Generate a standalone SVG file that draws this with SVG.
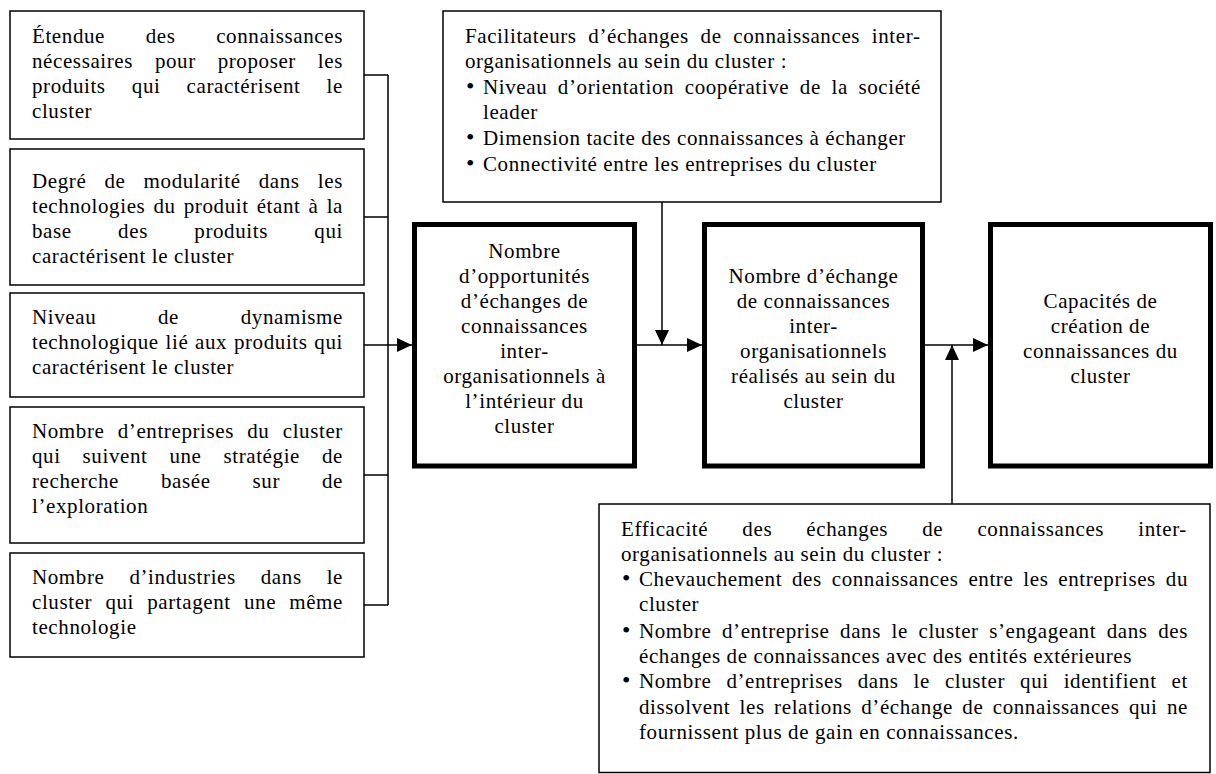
<svg xmlns="http://www.w3.org/2000/svg" width="1216" height="774" viewBox="0 0 1216 774">
<defs>
<style>
.t{font-family:"Liberation Serif","Times New Roman",serif;font-size:21px;letter-spacing:0.6px;fill:#000}
.c{text-anchor:middle}
.b{font-size:24px}
.box{fill:#fff;stroke:#000;stroke-width:1.5}
.thick{fill:#fff;stroke:#000;stroke-width:5}
.ln{stroke:#000;stroke-width:1.5;fill:none}
</style>
<marker id="ah" markerWidth="15" markerHeight="14" refX="15" refY="7" orient="auto" markerUnits="userSpaceOnUse"><path d="M0,0 L15,7 L0,14 z" fill="#000"/></marker>
</defs>
<rect width="1216" height="774" fill="#fff"/>

<g id="connectors">
<path class="ln" d="M364,75 H388 M364,217 H388 M364,475 H388 M364,605 H388 M388,75 V605"/>
<line class="ln" x1="364" y1="345" x2="412" y2="345" marker-end="url(#ah)"/>
<line class="ln" x1="637" y1="345" x2="702" y2="345" marker-end="url(#ah)"/>
<line class="ln" x1="662" y1="202" x2="662" y2="345" marker-end="url(#ah)"/>
<line class="ln" x1="925" y1="345" x2="988" y2="345" marker-end="url(#ah)"/>
<line class="ln" x1="952" y1="504" x2="952" y2="345" marker-end="url(#ah)"/>
</g>

<g id="n1">
<rect class="box" x="10" y="11" width="354" height="128"/>
<text class="t" x="32" y="43" style="word-spacing:34.85px">Étendue des connaissances</text>
<text class="t" x="32" y="68" style="word-spacing:16px">nécessaires pour proposer les</text>
<text class="t" x="32" y="93" style="word-spacing:20.3px">produits qui caractérisent le</text>
<text class="t" x="32" y="118">cluster</text>
</g>

<g id="n2">
<rect class="box" x="10" y="149" width="354" height="136"/>
<text class="t" x="32" y="188" style="word-spacing:12.3px">Degré de modularité dans les</text>
<text class="t" x="32" y="213" style="word-spacing:2.25px">technologies du produit étant à la</text>
<text class="t" x="32" y="238" style="word-spacing:40.55px">base des produits qui</text>
<text class="t" x="32" y="263">caractérisent le cluster</text>
</g>

<g id="n3">
<rect class="box" x="10" y="293" width="354" height="104"/>
<text class="t" x="32" y="324" style="word-spacing:55.9px">Niveau de dynamisme</text>
<text class="t" x="32" y="349" style="word-spacing:0.9px">technologique lié aux produits qui</text>
<text class="t" x="32" y="374">caractérisent le cluster</text>
</g>

<g id="n4">
<rect class="box" x="10" y="407" width="354" height="136"/>
<text class="t" x="32" y="438" style="word-spacing:7.45px">Nombre d’entreprises du cluster</text>
<text class="t" x="32" y="463" style="word-spacing:16.1px">qui suivent une stratégie de</text>
<text class="t" x="32" y="488" style="word-spacing:36.1px">recherche basée sur de</text>
<text class="t" x="32" y="513">l’exploration</text>
</g>

<g id="n5">
<rect class="box" x="10" y="553" width="354" height="104"/>
<text class="t" x="32" y="584" style="word-spacing:19.15px">Nombre d’industries dans le</text>
<text class="t" x="32" y="609" style="word-spacing:7.35px">cluster qui partagent une même</text>
<text class="t" x="32" y="634">technologie</text>
</g>

<g id="facilitateurs">
<rect class="box" x="443" y="11" width="498" height="191"/>
<text class="t" x="465" y="43" style="word-spacing:5.9px">Facilitateurs d’échanges de connaissances inter-</text>
<text class="t" x="465" y="68">organisationnels au sein du cluster :</text>
<text class="t" y="94"><tspan class="b" x="466">•</tspan><tspan x="483" style="word-spacing:4.75px">Niveau d’orientation coopérative de la société</tspan></text>
<text class="t" x="483" y="119">leader</text>
<text class="t" y="145"><tspan class="b" x="466">•</tspan><tspan x="483">Dimension tacite des connaissances à échanger</tspan></text>
<text class="t" y="171"><tspan class="b" x="466">•</tspan><tspan x="483">Connectivité entre les entreprises du cluster</tspan></text>
</g>

<g id="opportunites">
<rect class="thick" x="414.5" y="224.5" width="220" height="241.5"/>
<text class="t c" x="524.5" y="258">Nombre</text>
<text class="t c" x="524.5" y="283">d’opportunités</text>
<text class="t c" x="524.5" y="308">d’échanges de</text>
<text class="t c" x="524.5" y="333">connaissances</text>
<text class="t c" x="524.5" y="358">inter-</text>
<text class="t c" x="524.5" y="383">organisationnels à</text>
<text class="t c" x="524.5" y="408">l’intérieur du</text>
<text class="t c" x="524.5" y="433">cluster</text>
</g>

<g id="echanges">
<rect class="thick" x="704.5" y="224.5" width="218" height="241.5"/>
<text class="t c" x="813.5" y="283">Nombre d’échange</text>
<text class="t c" x="813.5" y="308">de connaissances</text>
<text class="t c" x="813.5" y="333">inter-</text>
<text class="t c" x="813.5" y="358">organisationnels</text>
<text class="t c" x="813.5" y="383">réalisés au sein du</text>
<text class="t c" x="813.5" y="408">cluster</text>
</g>

<g id="capacites">
<rect class="thick" x="990.5" y="224.5" width="220" height="241.5"/>
<text class="t c" x="1100.5" y="308">Capacités de</text>
<text class="t c" x="1100.5" y="333">création de</text>
<text class="t c" x="1100.5" y="358">connaissances du</text>
<text class="t c" x="1100.5" y="383">cluster</text>
</g>

<g id="efficacite">
<rect class="box" x="599" y="504" width="611" height="268.5"/>
<text class="t" x="621" y="536" style="word-spacing:28.3px">Efficacité des échanges de connaissances inter-</text>
<text class="t" x="621" y="561">organisationnels au sein du cluster :</text>
<text class="t" y="586"><tspan class="b" x="622">•</tspan><tspan x="639" style="word-spacing:4.07px">Chevauchement des connaissances entre les entreprises du</tspan></text>
<text class="t" x="639" y="611">cluster</text>
<text class="t" y="638"><tspan class="b" x="622">•</tspan><tspan x="639" style="word-spacing:4.73px">Nombre d’entreprise dans le cluster s’engageant dans des</tspan></text>
<text class="t" x="639" y="663">échanges de connaissances avec des entités extérieures</text>
<text class="t" y="688"><tspan class="b" x="622">•</tspan><tspan x="639" style="word-spacing:9.14px">Nombre d’entreprises dans le cluster qui identifient et</tspan></text>
<text class="t" x="639" y="714" style="word-spacing:3.56px">dissolvent les relations d’échange de connaissances qui ne</text>
<text class="t" x="639" y="739">fournissent plus de gain en connaissances.</text>
</g>
</svg>
